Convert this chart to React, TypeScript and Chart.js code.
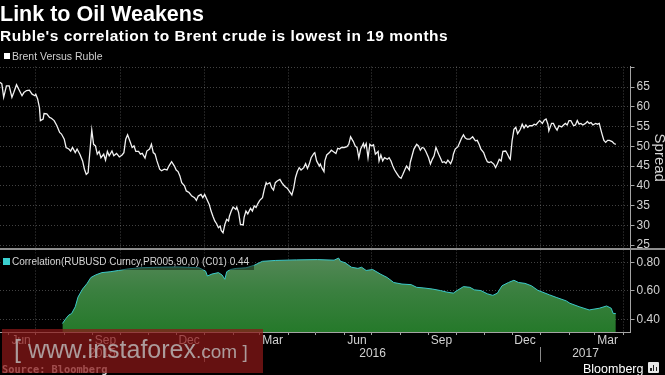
import React, { useEffect, useRef } from 'react';
import { Chart, registerables } from 'chart.js';

Chart.register(...registerables);

// ---- helpers: x axis is "days since 2015-01-01"
const DAY0 = Date.UTC(2015, 0, 1);
const dayOf = (iso: string) => (Date.parse(iso + 'T00:00:00Z') - DAY0) / 86400000;

// ---- data: Brent versus Ruble spread  [day since 2015-01-01, value]
const brentSpread: [number, number][] = [
  [142,66.2],[144,65.8],[146,62.4],[149,65.3],[152,65.3],[155,62.4],[157,63.6],[160,65.6],[163,64.2],[166,62.8],
  [168,63.6],[171,64.1],[174,64.2],[177,63.2],[180,62.8],[181,63.2],[183,62.0],[185,59.8],[186,56.5],[189,56.9],
  [190,58.3],[193,58.2],[196,57.3],[198,57.1],[201,56.5],[204,55.2],[207,53.5],[209,53.1],[212,51.8],[214,49.7],
  [217,49.3],[219,48.8],[221,49.7],[224,48.4],[226,49.3],[229,48.0],[232,46.3],[234,44.2],[236,42.9],[238,43.3],
  [240,48.8],[242,54.1],[244,50.5],[246,50.1],[248,48.0],[250,48.7],[252,47.1],[255,48.0],[257,46.5],[259,48.7],
  [261,47.6],[264,48.8],[266,47.6],[269,48.2],[272,47.3],[275,47.8],[277,48.4],[279,51.8],[281,52.9],[284,51.0],
  [286,49.7],[288,50.1],[290,48.7],[293,48.7],[295,48.0],[297,48.2],[300,47.0],[302,48.8],[305,49.3],[307,50.5],
  [309,48.4],[311,48.0],[313,46.3],[316,44.2],
  [318,43.8],[321,44.2],[324,44.0],[326,45.0],[329,46.1],[332,45.0],[334,44.0],[336,43.6],[338,42.5],[340,40.8],
  [343,40.0],[345,38.7],[348,38.3],[351,37.4],[354,37.0],[356,36.3],[358,37.4],[361,37.8],[363,37.0],[365,37.8],
  [367,36.8],[370,35.3],[372,33.6],[374,32.3],[376,31.1],[378,30.4],[380,29.4],[382,29.8],[383,28.7],[385,28.1],
  [387,30.2],[389,31.5],[391,31.1],[392,32.3],[394,33.6],[396,34.6],[399,34.0],[400,34.6],[402,33.2],[404,30.2],
  [407,30.1],[408,32.0],[410,33.6],[412,32.9],[415,34.3],[417,33.6],[419,34.9],[421,34.5],[423,35.5],[425,36.3],
  [428,37.0],[430,39.1],[432,40.8],[433,40.4],[436,40.8],[438,39.5],[440,38.9],[442,40.8],[444,41.2],[447,41.6],
  [449,40.8],[451,40.2],[453,39.7],[455,39.4],[457,38.7],[460,37.7],[462,39.4],[464,42.1],[466,43.6],[468,44.6],
  [470,44.0],[473,44.6],[475,45.6],[477,44.4],[479,45.5],[481,47.1],[484,48.2],[485,48.4],
  [487,46.3],[490,45.0],[491,45.5],[493,44.4],[495,43.6],[496,46.3],[498,47.8],[501,48.4],[503,49.0],[505,48.7],
  [508,48.2],[510,49.5],[512,49.3],[514,49.7],[517,49.7],[520,49.9],[522,50.5],[524,52.4],[527,51.2],[529,50.1],
  [531,49.7],[533,47.1],[535,49.3],[538,50.7],[539,49.7],[541,50.7],[543,47.1],[545,50.5],[547,50.1],[549,50.4],
  [551,48.0],[554,48.7],[555,46.3],[557,47.8],[559,46.3],[561,47.1],[564,46.7],[566,47.1],[568,46.3],[570,45.0],
  [572,44.0],[575,42.9],[577,42.2],[579,41.9],[581,42.9],[583,44.0],[585,45.0],[588,44.0],[589,45.9],[591,47.6],
  [593,49.3],[596,50.5],[598,50.1],[600,49.0],[602,49.7],[604,49.5],[606,48.7],[609,47.1],[611,45.5],[613,46.7],
  [615,47.6],[617,49.7],[620,48.0],[622,47.0],[624,45.9],[626,46.1],[628,45.7],[630,46.5],[633,45.6],[635,46.7],
  [636,48.0],[638,49.3],[641,49.9],[643,51.0],[645,52.1],[647,52.9],[649,52.1],[651,51.8],[654,51.8],
  [657,52.4],[660,51.4],[662,51.5],[664,50.5],[666,49.3],[669,48.4],[671,47.1],[673,46.1],[675,45.9],[677,46.1],
  [680,45.5],[682,44.6],[684,45.6],[686,46.7],[688,46.3],[690,48.7],[693,48.8],[695,48.0],[697,47.0],[698,46.7],
  [700,51.4],[702,54.3],[704,54.8],[706,53.2],[709,54.3],[711,55.6],[713,54.6],[715,55.4],[717,54.8],[719,55.2],
  [722,55.2],[724,55.6],[726,55.4],[728,56.0],[730,56.5],[733,55.8],[735,56.6],[737,56.9],[739,55.6],[740,53.9],
  [743,55.8],[745,55.8],[747,54.8],[749,54.1],[751,55.2],[754,54.9],[756,55.4],[758,55.8],[760,55.4],[762,56.5],
  [764,56.5],[767,55.2],[769,55.4],[771,56.5],[773,55.6],[775,55.8],[777,55.4],[780,55.8],[782,56.3],[784,55.8],
  [786,56.0],[788,55.4],[791,55.8],[793,55.6],[795,55.8],[796,54.8],[798,53.1],[800,51.5],[802,51.0],[804,51.5],
  [806,51.5],[809,51.2],[811,50.7],[813,50.5],
];

// ---- data: 90-day correlation RUBUSD vs Brent  [day since 2015-01-01, value]
const correlation: [number, number][] = [
  [210,0.37],[214,0.407],[217,0.43],[220,0.44],[224,0.488],[227,0.557],[232,0.614],[237,0.654],[241,0.695],
  [246,0.713],[253,0.73],[262,0.736],[271,0.745],[280,0.755],[294,0.764],[313,0.768],[336,0.77],[359,0.764],
  [366,0.741],[368,0.706],[373,0.72],[380,0.73],[384,0.713],[387,0.683],[389,0.736],[393,0.752],[400,0.76],
  [410,0.764],[419,0.782],[428,0.81],[442,0.816],[465,0.82],[488,0.822],[506,0.818],[511,0.833],[513,0.81],
  [518,0.80],[525,0.768],[532,0.76],[536,0.768],[541,0.745],[548,0.752],[557,0.718],[564,0.695],[571,0.66],
  [580,0.649],[590,0.645],[596,0.626],[603,0.622],[613,0.614],[622,0.603],[629,0.592],[636,0.585],[640,0.603],
  [647,0.631],[654,0.626],[659,0.608],[666,0.603],[673,0.58],[679,0.569],[684,0.585],[689,0.637],[696,0.66],
  [702,0.676],[707,0.66],[714,0.654],[721,0.637],[728,0.605],[741,0.572],[748,0.555],[759,0.53],[763,0.513],
  [773,0.489],[784,0.466],[795,0.478],[803,0.494],[808,0.478],[810,0.442],[813,0.44],
];

// ---- axes
const xStartDate = '2015-05-23';
const xEndDate = '2017-04-09';
const spreadTicks = [25, 30, 35, 40, 45, 50, 55, 60, 65, 70];
const spreadRange = [24.0, 70.2];
const corrTicks = [0.4, 0.6, 0.8];
const corrRange = [0.31, 0.897];
const monthTickDates = [
  '2015-06-01','2015-07-01','2015-08-01','2015-09-01','2015-10-01','2015-11-01','2015-12-01',
  '2016-01-01','2016-02-01','2016-03-01','2016-04-01','2016-05-01','2016-06-01','2016-07-01',
  '2016-08-01','2016-09-01','2016-10-01','2016-11-01','2016-12-01','2017-01-01','2017-02-01',
  '2017-03-01','2017-04-01',
];
const quarterMonths = ['01', '04', '07', '10'];
const monthLabelDates = ['2015-06-15','2015-09-15','2015-12-15','2016-03-15','2016-06-15','2016-09-15','2016-12-15','2017-03-15'];
const monthLabels = ['Jun', 'Sep', 'Dec', 'Mar', 'Jun', 'Sep', 'Dec', 'Mar'];
const yearLabels = ['2015', '2016', '2017'];
const yearStartDates = ['2016-01-01', '2017-01-01'];

const X_MIN = dayOf(xStartDate);
const X_MAX = dayOf(xEndDate);
const quarterDays = new Set(
  monthTickDates.filter((d) => quarterMonths.includes(d.slice(5, 7))).map(dayOf)
);

// year axis items: separators at year starts, labels at centre of each visible year
const yearBounds = [X_MIN, ...yearStartDates.map(dayOf), X_MAX];
const yearItems = [
  ...yearLabels.map((label, i) => ({ value: (yearBounds[i] + yearBounds[i + 1]) / 2, label, sep: false })),
  ...yearStartDates.map((d) => ({ value: dayOf(d), label: '', sep: true })),
].sort((a, b) => a.value - b.value);

const FONT = '"Liberation Sans", Arial, sans-serif';
const tickFont = { family: FONT, size: 12 };
const labelColor = '#d2d2d2';
const gridColor = 'rgba(255,255,255,0.26)';
const axisColor = '#a4a4a4';
const transparent = 'rgba(0,0,0,0)';

const separatorPlugin = {
  id: 'panelSeparator',
  afterDraw(chart: any) {
    const s = chart.scales.yCorr;
    const ctx = chart.ctx;
    ctx.save();
    ctx.fillStyle = '#8e8e8e';
    ctx.fillRect(0, s.top - 1, chart.width, 2);
    ctx.restore();
  },
};

function buildConfig(): any {
  return {
    type: 'line',
    data: {
      datasets: [
        {
          label: 'Brent Versus Ruble',
          data: brentSpread.map(([x, y]) => ({ x, y })),
          xAxisID: 'x',
          yAxisID: 'ySpread',
          borderColor: '#f2f2f2',
          borderWidth: 1.3,
          pointRadius: 0,
          fill: false,
          tension: 0,
        },
        {
          label: 'Correlation',
          data: correlation.map(([x, y]) => ({ x, y })),
          xAxisID: 'x',
          yAxisID: 'yCorr',
          borderColor: '#3cc8c8',
          borderWidth: 1,
          pointRadius: 0,
          tension: 0,
          fill: 'start',
          backgroundColor: (c: any) => {
            const chart = c.chart;
            const s = chart.scales.yCorr;
            if (!s || !isFinite(s.top) || !isFinite(s.bottom) || s.bottom <= s.top) return '#2f7d34';
            const g = chart.ctx.createLinearGradient(0, s.top, 0, s.bottom);
            g.addColorStop(0, '#5a8a5d');
            g.addColorStop(0.5, '#3b8040');
            g.addColorStop(1, '#25792a');
            return g;
          },
        },
      ],
    },
    options: {
      animation: false,
      responsive: false,
      devicePixelRatio: 1,
      layout: { padding: { top: 66.5, left: 0, right: 0, bottom: 0 } },
      plugins: { legend: { display: false }, tooltip: { enabled: false } },
      scales: {
        x: {
          type: 'linear', position: 'bottom', min: X_MIN, max: X_MAX, bounds: 'data', weight: 0, z: 1,
          afterBuildTicks: (s: any) => { s.ticks = monthTickDates.map((d) => ({ value: dayOf(d) })); },
          afterFit: (s: any) => { s.height = 3; },
          ticks: { display: false, autoSkip: false },
          grid: {
            color: (c: any) => (c.tick && quarterDays.has(c.tick.value) ? gridColor : transparent),
            tickColor: axisColor, tickLength: 3, drawTicks: true, lineWidth: 1,
          },
          border: { display: true, color: axisColor, dash: [1, 2] },
        },
        xMonth: {
          type: 'linear', position: 'bottom', min: X_MIN, max: X_MAX, bounds: 'data', weight: 1,
          afterBuildTicks: (s: any) => { s.ticks = monthLabelDates.map((d) => ({ value: dayOf(d) })); },
          afterFit: (s: any) => { s.height = 12; },
          ticks: {
            autoSkip: false, maxRotation: 0, minRotation: 0, padding: -2, color: labelColor, font: tickFont,
            callback: (_v: any, i: number) => monthLabels[i],
          },
          grid: { display: false, drawTicks: false },
          border: { display: false },
        },
        xYear: {
          type: 'linear', position: 'bottom', min: X_MIN, max: X_MAX, bounds: 'data', weight: 2,
          afterBuildTicks: (s: any) => { s.ticks = yearItems.map((t) => ({ value: t.value })); },
          afterFit: (s: any) => { s.height = 28; },
          ticks: {
            autoSkip: false, maxRotation: 0, minRotation: 0, padding: -16, color: labelColor, font: tickFont,
            callback: (_v: any, i: number) => yearItems[i].label,
          },
          grid: {
            drawOnChartArea: false, drawTicks: true, tickLength: 15, color: transparent,
            tickColor: (c: any) => (yearItems[c.index] && yearItems[c.index].sep ? '#8a8a8a' : transparent),
          },
          border: { display: false },
        },
        ySpread: {
          type: 'linear', position: 'right', stack: 'panels', stackWeight: 182.5, weight: 1,
          min: spreadRange[0], max: spreadRange[1], bounds: 'data', z: 1,
          afterBuildTicks: (s: any) => { s.ticks = spreadTicks.map((v) => ({ value: v })); },
          afterFit: (s: any) => { s.width = 34.5; },
          ticks: {
            autoSkip: false, color: labelColor, font: tickFont, padding: 2,
            callback: (v: any) => (v === spreadTicks[spreadTicks.length - 1] ? '' : String(v)),
          },
          grid: { color: gridColor, tickColor: axisColor, tickLength: 4 },
          border: { display: true, color: axisColor, dash: [1, 2] },
          title: {
            display: true, text: 'Spread', color: '#d6d6d6',
            font: { family: FONT, size: 15 }, padding: { top: -3, bottom: 0 },
          },
        },
        yCorr: {
          type: 'linear', position: 'right', stack: 'panels', stackWeight: 83, weight: 2,
          min: corrRange[0], max: corrRange[1], bounds: 'data', z: 1,
          afterBuildTicks: (s: any) => { s.ticks = corrTicks.map((v) => ({ value: v })); },
          afterFit: (s: any) => { s.width = 34.5; },
          ticks: { autoSkip: false, color: labelColor, font: tickFont, padding: 2, callback: (v: any) => Number(v).toFixed(2) },
          grid: { color: gridColor, tickColor: axisColor, tickLength: 4 },
          border: { display: true, color: axisColor, dash: [1, 2] },
        },
      },
    },
    plugins: [separatorPlugin],
  };
}

const lastCorr = correlation[correlation.length - 1][1];

export default function App() {
  const ref = useRef<HTMLCanvasElement>(null);
  useEffect(() => {
    document.body.style.background = '#000';
    const chart = new Chart(ref.current as HTMLCanvasElement, buildConfig());
    return () => chart.destroy();
  }, []);

  const abs = (o: any) => ({ position: 'absolute' as const, whiteSpace: 'nowrap' as const, ...o });

  return (
    <div style={{ position: 'absolute', left: 0, top: 0, width: 665, height: 375, background: '#000', overflow: 'hidden', fontFamily: FONT }}>
      <canvas ref={ref} width={665} height={375} style={{ position: 'absolute', left: 0, top: 0, display: 'block' }} />

      <div style={abs({ left: 0, top: 3.5, fontSize: 21.5, lineHeight: '21.5px', fontWeight: 700, color: '#fff' })}>
        Link to Oil Weakens
      </div>
      <div style={abs({ left: 0, top: 28, fontSize: 15.5, lineHeight: '15.5px', fontWeight: 700, color: '#fff', letterSpacing: 0.5 })}>
        Ruble's correlation to Brent crude is lowest in 19 months
      </div>

      {/* top legend */}
      <div style={abs({ left: 4, top: 53, width: 6, height: 6, background: '#fff' })} />
      <div style={abs({ left: 12, top: 49, fontSize: 10.5, lineHeight: '14px', color: '#cfcfcf' })}>Brent Versus Ruble</div>

      {/* bottom legend */}
      <div style={abs({ left: 0, top: 253, width: 254, height: 17, background: 'rgba(0,0,0,0.45)' })}>
        <div style={abs({ left: 3, top: 5, width: 7, height: 7, background: '#3ad0d0' })} />
        <div style={abs({ left: 12, top: 0, fontSize: 10, lineHeight: '17px', color: '#d4d4d4' })}>
          {`Correlation(RUBUSD Curncy,PR005,90,0) (C01) ${lastCorr.toFixed(2)}`}
        </div>
      </div>

      {/* footer */}
      <div style={abs({ left: 2, top: 364, fontSize: 10.3, lineHeight: '10px', fontWeight: 700, color: '#d8d8d8', fontFamily: '"DejaVu Sans Mono", "Liberation Mono", monospace' })}>
        Source: Bloomberg
      </div>
      <div style={abs({ left: 583, top: 362.5, fontSize: 12.5, lineHeight: '12.5px', color: '#fff' })}>Bloomberg</div>
      <div style={abs({ left: 648, top: 362, width: 11, height: 11, background: '#e8e8e8', borderRadius: 1 })}>
        <div style={abs({ left: 2, bottom: 2, width: 1.5, height: 3, background: '#222' })} />
        <div style={abs({ left: 4.8, bottom: 2, width: 1.5, height: 6, background: '#222' })} />
        <div style={abs({ left: 7.6, bottom: 2, width: 1.5, height: 4, background: '#222' })} />
      </div>

      {/* watermark */}
      <div style={abs({ left: 2, top: 329, width: 261, height: 44, background: 'rgba(140,24,24,0.72)' })}>
        <div style={abs({ left: 12, top: 8, fontSize: 25, lineHeight: '25px', color: 'rgba(190,190,190,0.8)' })}>
          [ www.instaforex<span style={{ fontSize: 19 }}>.com ]</span>
        </div>
      </div>
    </div>
  );
}
